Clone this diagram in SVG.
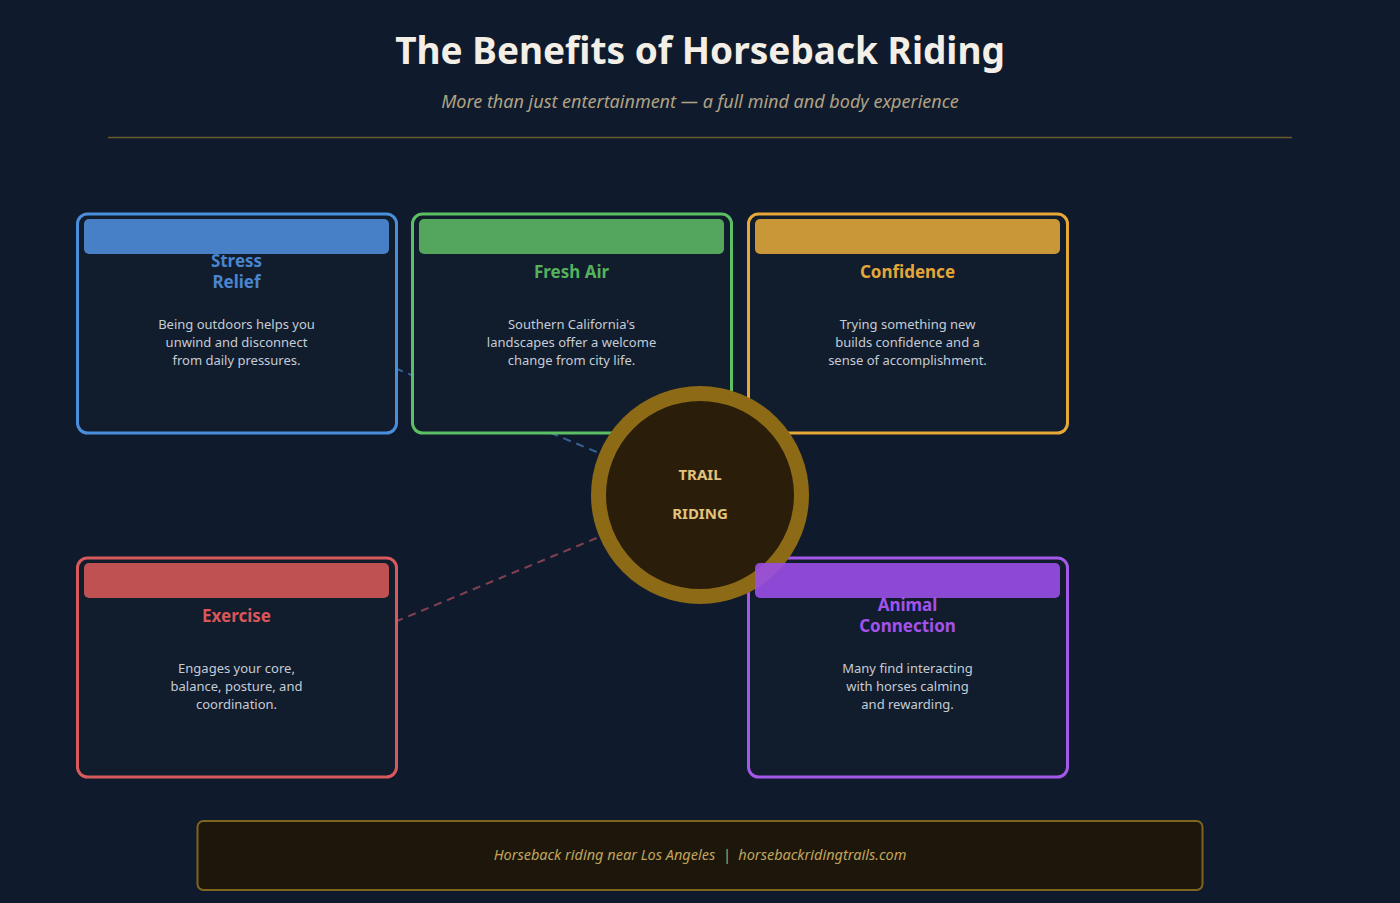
<svg xmlns="http://www.w3.org/2000/svg" width="1400" height="903" viewBox="0 0 1400 903">
<style>
.bg{fill:#0f1b2d}
.card{fill:#111c2c;stroke-width:3}
.ttl{font-family:"Noto Sans","Liberation Sans",sans-serif;font-weight:700;font-size:17px;text-anchor:middle}
.body{font-family:"Noto Sans","Liberation Sans",sans-serif;font-size:13px;fill:#c5ccd6;text-anchor:middle}
.conn{fill:none;stroke-width:2;stroke-dasharray:8 6;opacity:0.7}
.hub{font-family:"Noto Sans","Liberation Sans",sans-serif;font-weight:700;font-size:15px;fill:#e3c27a;text-anchor:middle}
</style>
<rect class="bg" x="0" y="0" width="1400" height="903"/>
<text x="700" y="64" font-family="'Noto Sans','Liberation Sans',sans-serif" font-weight="700" font-size="37" fill="#f3efe6" text-anchor="middle">The Benefits of Horseback Riding</text>
<text x="700" y="108" font-family="'Noto Sans','Liberation Sans',sans-serif" font-style="italic" font-size="18" fill="#b0a284" text-anchor="middle">More than just entertainment — a full mind and body experience</text>
<line x1="108" y1="137.5" x2="1292" y2="137.5" stroke="#6a5a2c" stroke-width="1.5"/>

<g id="connectors">
<line class="conn" x1="700" y1="495" x2="236" y2="302" stroke="#4a80c4"/>
<line class="conn" x1="700" y1="495" x2="571" y2="302" stroke="#52a55a"/>
<line class="conn" x1="700" y1="495" x2="907" y2="302" stroke="#c99535"/>
<line class="conn" x1="700" y1="495" x2="236" y2="688" stroke="#b55060"/>
<line class="conn" x1="700" y1="495" x2="907" y2="688" stroke="#8e4bdb"/>
</g>

<g id="stress-relief">
<rect class="card" x="77.5" y="214" width="319" height="219" rx="10" stroke="#4a8fdb"/>
<rect x="84" y="219" width="305" height="35" rx="5" fill="#4780c6"/>
<text class="ttl" fill="#4a85cf"><tspan x="236.5" y="267">Stress</tspan><tspan x="236.5" y="288">Relief</tspan></text>
<text class="body"><tspan x="236.5" y="329">Being outdoors helps you</tspan><tspan x="236.5" y="347">unwind and disconnect</tspan><tspan x="236.5" y="365">from daily pressures.</tspan></text>
</g>

<g id="fresh-air">
<rect class="card" x="412.5" y="214" width="319" height="219" rx="10" stroke="#5cbf63"/>
<rect x="419" y="219" width="305" height="35" rx="5" fill="#53a65b"/>
<text class="ttl" fill="#55b25c" x="571.5" y="278">Fresh Air</text>
<text class="body"><tspan x="571.5" y="329">Southern California's</tspan><tspan x="571.5" y="347">landscapes offer a welcome</tspan><tspan x="571.5" y="365">change from city life.</tspan></text>
</g>

<g id="confidence">
<rect class="card" x="748.5" y="214" width="319" height="219" rx="10" stroke="#e8a838"/>
<rect x="755" y="219" width="305" height="35" rx="5" fill="#c99638"/>
<text class="ttl" fill="#e3a73a" x="907.5" y="278">Confidence</text>
<text class="body"><tspan x="907.5" y="329">Trying something new</tspan><tspan x="907.5" y="347">builds confidence and a</tspan><tspan x="907.5" y="365">sense of accomplishment.</tspan></text>
</g>

<g id="exercise">
<rect class="card" x="77.5" y="558" width="319" height="219" rx="10" stroke="#d95a5c"/>
<rect x="84" y="563" width="305" height="35" rx="5" fill="#c05152"/>
<text class="ttl" fill="#d9575a" x="236.5" y="622">Exercise</text>
<text class="body"><tspan x="236.5" y="673">Engages your core,</tspan><tspan x="236.5" y="691">balance, posture, and</tspan><tspan x="236.5" y="709">coordination.</tspan></text>
</g>

<g id="animal-connection-box">
<rect class="card" x="748.5" y="558" width="319" height="219" rx="10" stroke="#a459ea"/>
</g>

<g id="trail-riding">
<circle cx="700" cy="495" r="101.5" fill="#2a1e0b" stroke="#8d6a16" stroke-width="15"/>
<text class="hub" x="700" y="480">TRAIL</text>
<text class="hub" x="700" y="519">RIDING</text>
</g>

<g id="animal-connection">
<rect x="755" y="563" width="305" height="35" rx="5" fill="#9a4fe6" opacity="0.9"/>
<text class="ttl" fill="#a352ec"><tspan x="907.5" y="611">Animal</tspan><tspan x="907.5" y="632">Connection</tspan></text>
<text class="body"><tspan x="907.5" y="673">Many find interacting</tspan><tspan x="907.5" y="691">with horses calming</tspan><tspan x="907.5" y="709">and rewarding.</tspan></text>
</g>

<g id="footer">
<rect x="197.5" y="821" width="1005" height="69" rx="6" fill="#1c170a" stroke="#7f6420" stroke-width="2"/>
<text x="700" y="860" font-family="'Noto Sans','Liberation Sans',sans-serif" font-style="italic" font-size="14.5" fill="#c2a45e" text-anchor="middle">Horseback riding near Los Angeles&#160;&#160;|&#160;&#160;horsebackridingtrails.com</text>
</g>
</svg>
